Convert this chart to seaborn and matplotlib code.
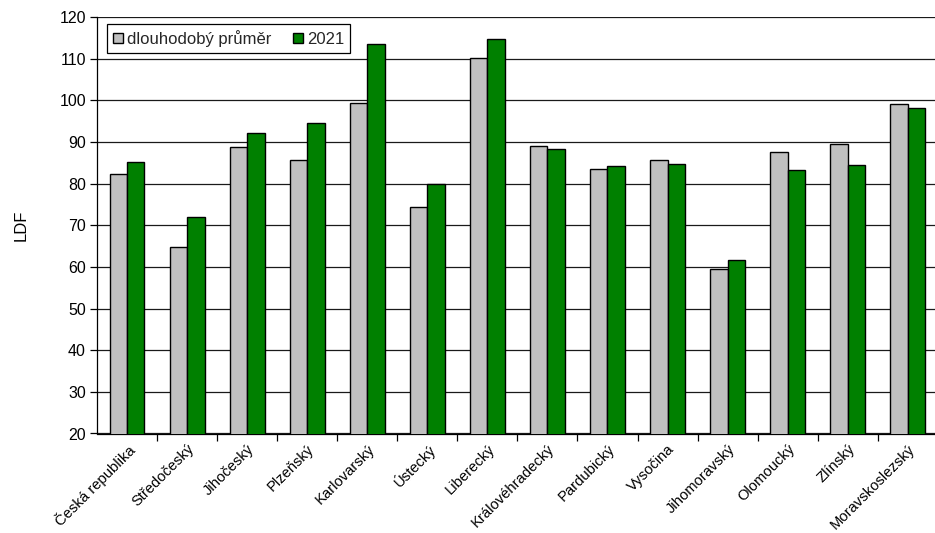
import matplotlib
matplotlib.use("Agg")
import matplotlib.pyplot as plt
import seaborn as sns
import pandas as pd
import numpy as np

regions = ["Česká republika", "Středočeský", "Jihočeský", "Plzeňský", "Karlovarský",
           "Ústecký", "Liberecký", "Královéhradecký", "Pardubický", "Vysočina",
           "Jihomoravský", "Olomoucký", "Zlínský", "Moravskoslezský"]
long_term = [82.4, 64.8, 88.9, 85.7, 99.4, 74.4, 110.2, 89.1, 83.4, 85.6, 59.6, 87.6, 89.6, 99.0]
y2021 = [85.2, 72.0, 92.1, 94.5, 113.4, 79.9, 114.8, 88.3, 84.3, 84.7, 61.6, 83.3, 84.4, 98.2]
series_names = ["dlouhodobý průměr", "2021"]
yticks = list(range(20, 121, 10))

df = pd.DataFrame({
    "region": regions * 2,
    "series": [series_names[0]] * len(regions) + [series_names[1]] * len(regions),
    "value": long_term + y2021,
})

sns.set_theme(style="white")
plt.rcParams['font.family'] = ['Liberation Sans', 'DejaVu Sans']

fig = plt.figure(figsize=(9.35, 5.33), dpi=100)
ax = fig.add_axes([97 / 935, 1 - 433.5 / 533, 1 - 97 / 935 + 0.003, (433.5 - 17) / 533])

sns.barplot(data=df, x="region", y="value", hue="series", hue_order=series_names,
            palette=["#C0C0C0", "#008000"], width=0.58, edgecolor="black",
            linewidth=1.0, ax=ax, zorder=3, saturation=1)

ax.set_ylim(20, 120)
ax.set_yticks(yticks)
ax.set_xlim(-0.5, len(regions) - 0.5)
ax.yaxis.grid(True, color="#1a1a1a", linewidth=0.9, zorder=0)
ax.set_axisbelow(True)
for s in ["top", "right"]:
    ax.spines[s].set_visible(False)
for s in ["left", "bottom"]:
    ax.spines[s].set_color("black")
    ax.spines[s].set_linewidth(0.9)

ax.tick_params(axis="y", which="major", left=True, length=5, width=0.9, color="black",
               labelsize=11.5, pad=3, labelcolor="black")
ax.set_xticks(np.arange(len(regions)))
ax.set_xticklabels(regions, rotation=45, ha="right", rotation_mode="anchor",
                   fontsize=10.6, color="black")
ax.tick_params(axis="x", which="major", bottom=False, length=0, pad=6)
ax.set_xticks(np.arange(len(regions)) + 0.5, minor=True)
ax.tick_params(axis="x", which="minor", bottom=True, length=5, width=0.9, color="black")

ax.set_xlabel("")
ax.set_ylabel("LDF", fontsize=12, labelpad=22, color="black")

leg = ax.legend(loc="upper left", bbox_to_anchor=(10 / 838, 1 - 7 / 416.5),
                ncol=2, frameon=True, fancybox=False, fontsize=12,
                handlelength=0.6, handleheight=0.6, handletextpad=0.25,
                columnspacing=1.3, borderpad=0.35, borderaxespad=0)
leg.get_frame().set_edgecolor("black")
leg.get_frame().set_linewidth(0.9)
leg.get_frame().set_facecolor("white")
leg.get_frame().set_alpha(1)
leg.set_zorder(5)

fig.savefig("out.png", dpi=100)
